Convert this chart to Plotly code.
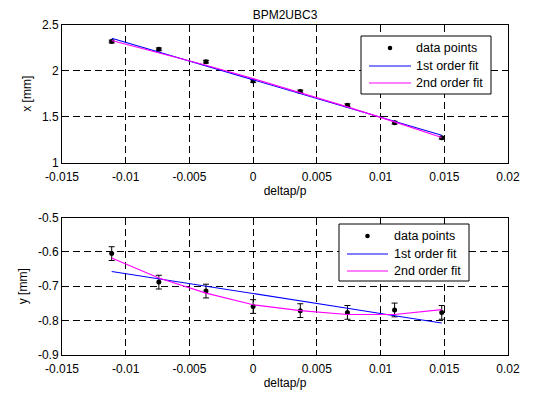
import plotly.graph_objects as go

# ---- data ----
deltap = [-0.0111, -0.0074, -0.0037, 0.0, 0.0037, 0.0074, 0.0111, 0.0148]

x_mm = [2.32, 2.235, 2.10, 1.89, 1.775, 1.625, 1.435, 1.27]
x_err = [0.015, 0.015, 0.015, 0.015, 0.015, 0.015, 0.015, 0.015]
x_fit1 = [2.356, 2.205, 2.054, 1.902, 1.751, 1.600, 1.449, 1.298]
x_fit2 = [2.331, 2.200, 2.061, 1.915, 1.764, 1.607, 1.443, 1.273]

y_mm = [-0.605, -0.688, -0.714, -0.759, -0.771, -0.776, -0.769, -0.776]
y_err = [0.02, 0.02, 0.02, 0.02, 0.02, 0.02, 0.02, 0.02]
y_fit1 = [-0.657, -0.678, -0.700, -0.722, -0.743, -0.764, -0.786, -0.807]
y_fit2 = [-0.618, -0.676, -0.720, -0.754, -0.771, -0.782, -0.782, -0.768]

xtick_vals = [-0.015, -0.01, -0.005, 0, 0.005, 0.01, 0.015, 0.02]
xtick_text = ["-0.015", "-0.01", "-0.005", "0", "0.005", "0.01", "0.015", "0.02"]
ytop_vals = [1, 1.5, 2, 2.5]
ytop_text = ["1", "1.5", "2", "2.5"]
ybot_vals = [-0.9, -0.8, -0.7, -0.6, -0.5]
ybot_text = ["-0.9", "-0.8", "-0.7", "-0.6", "-0.5"]

legend_labels = ["data points", "1st order fit", "2nd order fit"]

FONT = "Liberation Sans, Arial, sans-serif"
BLUE = "#0000FF"
MAG = "#FF00FF"

# the page body has an 8px margin; size the figure so it fills the window
OFF = 8
W, H = 534 - OFF, 395 - OFF
ML, MR, MT, MB = 54, 26, 17, 40
PW, PH = W - ML - MR, H - MT - MB


def px2x(px):
    """window pixel -> paper x"""
    return (px - OFF - ML) / PW


def px2y(py):
    """window pixel -> paper y"""
    return (H - MB - (py - OFF)) / PH


fig = go.Figure()


def add_panel(xa, ya, yv, ye, f1, f2):
    fig.add_trace(go.Scatter(
        x=deltap, y=yv, mode="markers", name=legend_labels[0],
        marker=dict(color="black", size=5),
        error_y=dict(type="data", array=ye, visible=True, color="black",
                     thickness=1, width=3),
        xaxis=xa, yaxis=ya, showlegend=False))
    fig.add_trace(go.Scatter(
        x=deltap, y=f1, mode="lines", name=legend_labels[1],
        line=dict(color=BLUE, width=1.1), xaxis=xa, yaxis=ya, showlegend=False))
    fig.add_trace(go.Scatter(
        x=deltap, y=f2, mode="lines", name=legend_labels[2],
        line=dict(color=MAG, width=1.1), xaxis=xa, yaxis=ya, showlegend=False))


add_panel("x", "y", x_mm, x_err, x_fit1, x_fit2)
add_panel("x2", "y2", y_mm, y_err, y_fit1, y_fit2)

shapes = []
annotations = []


def draw_legend(left, right, top, bottom, rows, line_x0, line_x1, text_x):
    shapes.append(dict(type="rect", xref="paper", yref="paper",
                       x0=px2x(left), x1=px2x(right), y0=px2y(bottom), y1=px2y(top),
                       line=dict(color="black", width=1), fillcolor="white",
                       layer="above"))
    cx = (line_x0 + line_x1) / 2
    shapes.append(dict(type="circle", xref="paper", yref="paper",
                       x0=px2x(cx - 2.3), x1=px2x(cx + 2.3),
                       y0=px2y(rows[0] + 2.3), y1=px2y(rows[0] - 2.3),
                       line=dict(color="black", width=0), fillcolor="black",
                       layer="above"))
    for r, col in zip(rows[1:], [BLUE, MAG]):
        shapes.append(dict(type="line", xref="paper", yref="paper",
                           x0=px2x(line_x0), x1=px2x(line_x1),
                           y0=px2y(r), y1=px2y(r),
                           line=dict(color=col, width=1.1), layer="above"))
    for r, lab in zip(rows, legend_labels):
        annotations.append(dict(text=lab, xref="paper", yref="paper",
                                x=px2x(text_x), y=px2y(r), xanchor="left",
                                yanchor="middle", showarrow=False,
                                font=dict(family=FONT, size=12.5, color="black")))


draw_legend(361, 491, 36, 94, [48, 66, 83], 369, 411, 414)
draw_legend(339, 469, 224, 281, [236, 254, 271], 347, 388, 392)

axis_common = dict(
    showline=True, linecolor="black", linewidth=1, mirror="ticks",
    ticks="inside", ticklen=4, tickcolor="black",
    showgrid=True, gridcolor="black", gridwidth=1, griddash="7px,4px",
    zeroline=False, automargin=False,
    tickfont=dict(family=FONT, size=12, color="black"),
)

xr = [-0.015, 0.02]
top_dom = [px2y(162.5), 1]
bot_dom = [0, px2y(217.5)]

fig.update_layout(
    width=W, height=H,
    margin=dict(l=ML, r=MR, t=MT, b=MB),
    paper_bgcolor="white", plot_bgcolor="white",
    font=dict(family=FONT, size=12, color="black"),
    showlegend=False,
    title=dict(text="BPM2UBC3", x=0.5, xref="paper", xanchor="center",
               y=1 - (15 - OFF) / H, yref="container", yanchor="middle",
               font=dict(family=FONT, size=12, color="black")),
    xaxis=dict(axis_common, domain=[0, 1], range=xr, anchor="y",
               tickmode="array", tickvals=xtick_vals, ticktext=xtick_text,
               ticklabelstandoff=3,
               title=dict(text="deltap/p", standoff=0,
                          font=dict(family=FONT, size=12))),
    yaxis=dict(axis_common, domain=top_dom, range=[1, 2.5], anchor="x",
               tickmode="array", tickvals=ytop_vals, ticktext=ytop_text,
               title=dict(text="x [mm]", standoff=7,
                          font=dict(family=FONT, size=12))),
    xaxis2=dict(axis_common, domain=[0, 1], range=xr, anchor="y2",
                tickmode="array", tickvals=xtick_vals, ticktext=xtick_text,
                ticklabelstandoff=3,
                title=dict(text="deltap/p", standoff=0,
                           font=dict(family=FONT, size=12))),
    yaxis2=dict(axis_common, domain=bot_dom, range=[-0.9, -0.5], anchor="x2",
                tickmode="array", tickvals=ybot_vals, ticktext=ybot_text,
                title=dict(text="y [mm]", standoff=7,
                           font=dict(family=FONT, size=12))),
    shapes=shapes,
    annotations=annotations,
)

fig.write_html("out.html")
